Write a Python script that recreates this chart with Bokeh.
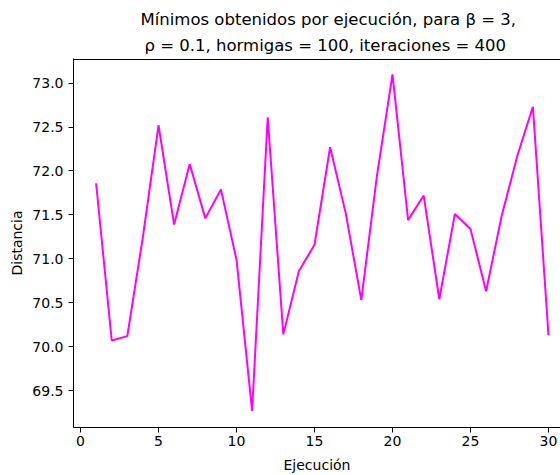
from bokeh.plotting import figure
from bokeh.models import FixedTicker, PrintfTickFormatter, Title, Range1d
from bokeh.embed import file_html
from bokeh.resources import INLINE

ejecucion = list(range(1, 31))
distancia = [71.86, 70.07, 70.12, 71.25, 72.52, 71.39, 72.08, 71.46, 71.79, 70.99,
             69.27, 72.61, 70.14, 70.86, 71.16, 72.27, 71.52, 70.53, 71.94, 73.10,
             71.44, 71.72, 70.54, 71.51, 71.34, 70.63, 71.49, 72.17, 72.73, 70.13]
x_ticks = [0, 5, 10, 15, 20, 25, 30]
y_ticks = [69.5, 70.0, 70.5, 71.0, 71.5, 72.0, 72.5, 73.0]
title_1 = "Mínimos obtenidos por ejecución, para β = 3,"
title_2 = "ρ = 0.1, hormigas = 100, iteraciones = 400"

FONT = "DejaVu Sans"
Y_START, Y_END = 69.08, 73.28

p = figure(width=560, height=475, output_backend="svg", toolbar_location=None,
           x_range=Range1d(-0.45, 30.77), y_range=Range1d(Y_START, Y_END),
           min_border_left=73, min_border_right=0, min_border_bottom=46, min_border_top=58)
p.title = None

t2 = Title(text=title_2, align="left", offset=71, text_font=FONT, text_font_size="16.5px",
           text_font_style="normal", text_color="#000000", standoff=8)
t1 = Title(text=title_1, align="left", offset=67, text_font=FONT, text_font_size="16.5px",
           text_font_style="normal", text_color="#000000", standoff=1)
p.add_layout(t2, "above")
p.add_layout(t1, "above")

p.line(ejecucion, distancia, line_color="#ff00ff", line_width=2)

# top spine, drawn just inside the frame's upper edge
p.hspan(y=[Y_END - 0.012], line_color="#000000", line_width=1)

p.outline_line_color = None
p.xgrid.visible = False
p.ygrid.visible = False
p.background_fill_color = "white"
p.border_fill_color = "white"

xax = p.below[0]
yax = p.left[0]
xax.ticker = FixedTicker(ticks=x_ticks)
yax.ticker = FixedTicker(ticks=y_ticks)
yax.formatter = PrintfTickFormatter(format="%.1f")
for ax in (xax, yax):
    ax.axis_line_color = "#000000"
    ax.axis_line_width = 1
    ax.major_tick_line_color = "#000000"
    ax.major_tick_out = 5
    ax.major_tick_in = 0
    ax.minor_tick_line_color = None
    ax.major_label_text_font = FONT
    ax.major_label_text_font_size = "14px"
    ax.major_label_text_color = "#000000"
    ax.axis_label_text_font = FONT
    ax.axis_label_text_font_size = "14px"
    ax.axis_label_text_font_style = "normal"
    ax.axis_label_text_color = "#000000"
xax.axis_label = "Ejecución"
yax.axis_label = "Distancia"
xax.axis_label_standoff = 8
yax.axis_label_standoff = 4
xax.major_label_standoff = 3
yax.major_label_standoff = 5

open("out.html", "w").write(file_html(p, INLINE))
